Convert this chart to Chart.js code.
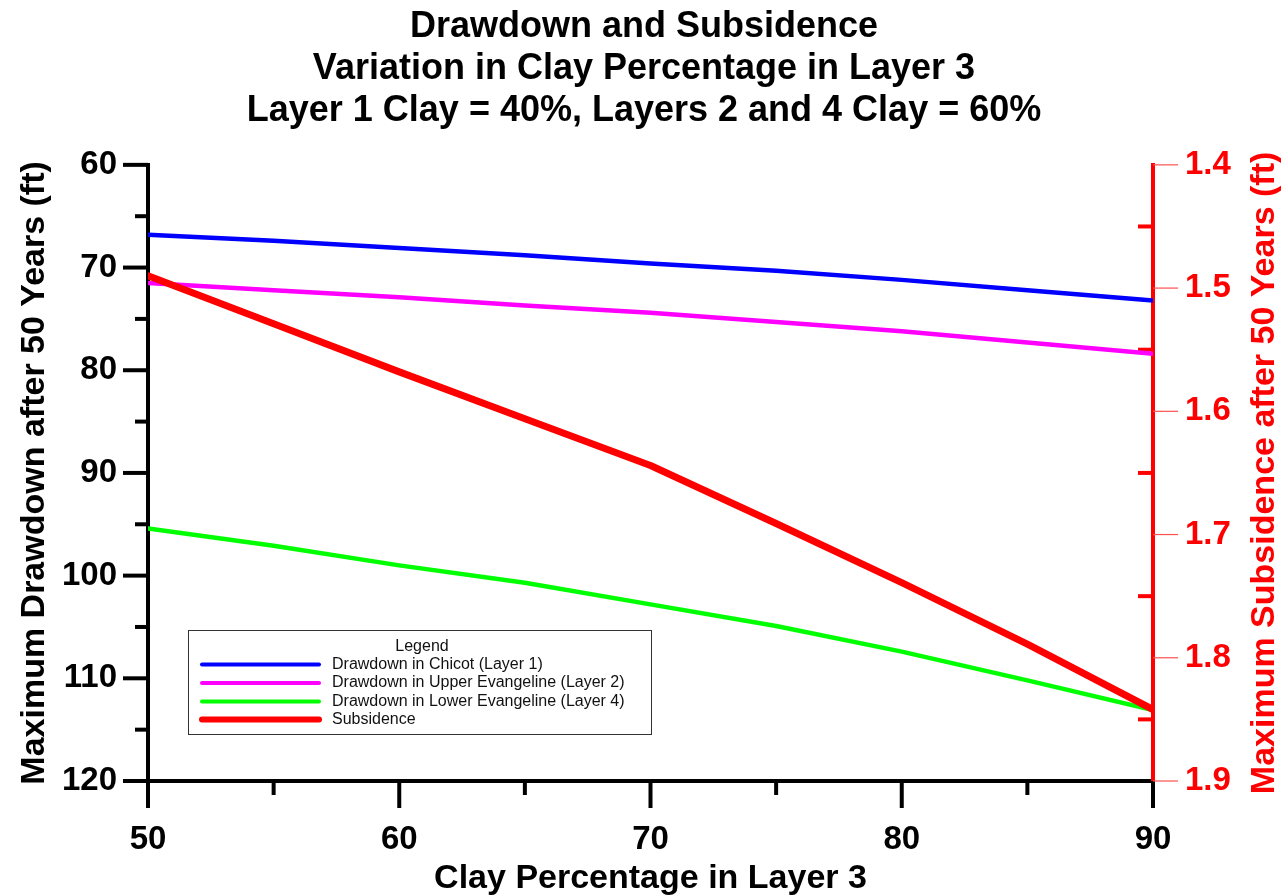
<!DOCTYPE html>
<html>
<head>
<meta charset="utf-8">
<script src="https://cdn.jsdelivr.net/npm/chart.js@4.4.1/dist/chart.umd.min.js"></script>
<style>
  html, body { margin: 0; padding: 0; background: #ffffff; }
  #c { display: block; }
</style>
</head>
<body>
<canvas id="c" width="1288" height="896"></canvas>
<script>
// Clay percentage in layer 3 (x axis)
const clayPct = [50, 55, 60, 65, 70, 75, 80, 85, 90];

// Maximum drawdown after 50 years (ft), left axis
const drawdownChicot = [66.8, 67.4, 68.1, 68.8, 69.6, 70.3, 71.2, 72.2, 73.2];
const drawdownUpperEvangeline = [71.5, 72.2, 72.9, 73.7, 74.4, 75.3, 76.2, 77.3, 78.4];
const drawdownLowerEvangeline = [95.4, 97.1, 99.0, 100.7, 102.8, 104.9, 107.4, 110.2, 113.1];

// Maximum subsidence after 50 years (ft), right axis
const subsidence = [1.490, 1.529, 1.568, 1.606, 1.644, 1.691, 1.739, 1.789, 1.842];

const seriesLabels = [
  'Drawdown in Chicot (Layer 1)',
  'Drawdown in Upper Evangeline (Layer 2)',
  'Drawdown in Lower Evangeline (Layer 4)',
  'Subsidence'
];
const titleLines = [
  'Drawdown and Subsidence',
  'Variation in Clay Percentage in Layer 3',
  'Layer 1 Clay = 40%, Layers 2 and 4 Clay = 60%'
];
const xTitle = 'Clay Percentage in Layer 3';
const yLeftTitle = 'Maximum Drawdown after 50 Years (ft)';
const yRightTitle = 'Maximum Subsidence after 50 Years (ft)';
const legendTitle = 'Legend';

const FONT = "'Liberation Sans', Arial, Helvetica, sans-serif";
const toPoints = (ys) => clayPct.map((x, i) => ({ x: x, y: ys[i] }));

// Axis tick marks: long major ticks, short minor ticks
const axisTicks = {
  id: 'axisTicks',
  beforeDatasetsDraw(chart) {
    const ctx = chart.ctx;
    const { left, right, bottom } = chart.chartArea;
    const sy = chart.scales.y, sx = chart.scales.x, sr = chart.scales.y2;
    ctx.save();
    ctx.lineCap = 'butt';
    // left axis
    ctx.strokeStyle = '#000';
    ctx.lineWidth = 4;
    for (let v = 60; v <= 120; v += 5) {
      const p = sy.getPixelForValue(v);
      const len = (v % 10 === 0) ? 25 : 13;
      ctx.beginPath(); ctx.moveTo(left - len, p); ctx.lineTo(left, p); ctx.stroke();
    }
    // bottom axis
    for (let v = 50; v <= 90; v += 5) {
      const p = sx.getPixelForValue(v);
      const len = (v % 10 === 0) ? 27 : 14;
      ctx.beginPath(); ctx.moveTo(p, bottom); ctx.lineTo(p, bottom + len); ctx.stroke();
    }
    // right axis: thin outward majors, thick inward minors
    for (let i = 0; i <= 10; i++) {
      const v = 1.4 + i * 0.05;
      const p = sr.getPixelForValue(v);
      if (i % 2 === 0) {
        ctx.lineWidth = 1.2;
        ctx.strokeStyle = '#ff5050';
        ctx.beginPath(); ctx.moveTo(right, p); ctx.lineTo(right + 25, p); ctx.stroke();
      } else {
        ctx.lineWidth = 4;
        ctx.strokeStyle = '#ff0000';
        ctx.beginPath(); ctx.moveTo(right - 15, p); ctx.lineTo(right, p); ctx.stroke();
      }
    }
    ctx.restore();
  }
};

// Right axis title reads bottom-to-top, like the left one
const rightTitle = {
  id: 'rightTitle',
  afterDraw(chart) {
    const ctx = chart.ctx;
    const { top, bottom } = chart.chartArea;
    ctx.save();
    ctx.translate(1265, (top + bottom) / 2);
    ctx.rotate(-Math.PI / 2);
    ctx.font = 'bold 34px ' + FONT;
    ctx.fillStyle = '#ff0000';
    ctx.textAlign = 'center';
    ctx.textBaseline = 'middle';
    ctx.fillText(yRightTitle, 0, 0);
    ctx.restore();
  }
};

// Boxed legend inside the plot
const boxLegend = {
  id: 'boxLegend',
  afterDraw(chart) {
    const ctx = chart.ctx;
    const bx = 188.5, by = 630.5, bw = 463, bh = 104;
    ctx.save();
    ctx.fillStyle = '#ffffff';
    ctx.fillRect(bx, by, bw, bh);
    ctx.strokeStyle = '#333333';
    ctx.lineWidth = 1;
    ctx.strokeRect(bx, by, bw, bh);
    ctx.fillStyle = '#111111';
    ctx.font = '16px ' + FONT;
    ctx.textAlign = 'center';
    ctx.textBaseline = 'middle';
    ctx.fillText(legendTitle, 422, 647);
    const rows = [664.5, 683, 701.5, 719.5];
    ctx.textAlign = 'left';
    ctx.lineCap = 'round';
    chart.data.datasets.forEach((ds, i) => {
      const y = rows[i];
      ctx.strokeStyle = ds.borderColor;
      ctx.lineWidth = i === 3 ? 6 : 4;
      ctx.beginPath(); ctx.moveTo(202, y); ctx.lineTo(319, y); ctx.stroke();
      ctx.fillText(ds.label, 332, y);
    });
    ctx.restore();
  }
};

new Chart(document.getElementById('c'), {
  type: 'line',
  data: {
    datasets: [
      { label: seriesLabels[0], data: toPoints(drawdownChicot), borderColor: '#0000ff', borderWidth: 4.5, yAxisID: 'y', order: 3 },
      { label: seriesLabels[1], data: toPoints(drawdownUpperEvangeline), borderColor: '#ff00ff', borderWidth: 4.5, yAxisID: 'y', order: 2 },
      { label: seriesLabels[2], data: toPoints(drawdownLowerEvangeline), borderColor: '#00ff00', borderWidth: 4.5, yAxisID: 'y', order: 1 },
      { label: seriesLabels[3], data: toPoints(subsidence), borderColor: '#ff0000', borderWidth: 7, yAxisID: 'y2', order: 0 }
    ]
  },
  options: {
    responsive: false,
    animation: false,
    devicePixelRatio: 1,
    layout: { padding: 0 },
    elements: {
      point: { radius: 0, hoverRadius: 0 },
      line: { tension: 0, fill: false, borderCapStyle: 'round', borderJoinStyle: 'round' }
    },
    plugins: {
      legend: { display: false },
      tooltip: { enabled: false },
      title: {
        display: true,
        text: titleLines,
        color: '#000',
        font: { family: FONT, size: 36, weight: 'bold', lineHeight: 1.17 },
        padding: { top: 6, bottom: 32.5 }
      }
    },
    scales: {
      x: {
        type: 'linear', min: 50, max: 90,
        ticks: { stepSize: 10, color: '#000', padding: 39, font: { family: FONT, size: 33, weight: 'bold' } },
        grid: { drawOnChartArea: false, drawTicks: false },
        border: { display: true, color: '#000', width: 4 },
        title: { display: true, text: xTitle, color: '#000', padding: 0, font: { family: FONT, size: 34, weight: 'bold', lineHeight: 1.05 } },
        afterFit(s) { s.height = 115; }
      },
      y: {
        type: 'linear', position: 'left', reverse: true, min: 60, max: 120,
        ticks: { stepSize: 10, color: '#000', padding: 31, font: { family: FONT, size: 33, weight: 'bold' } },
        grid: { drawOnChartArea: false, drawTicks: false },
        border: { display: true, color: '#000', width: 4 },
        title: { display: true, text: yLeftTitle, color: '#000', padding: { top: 17, bottom: 0 }, font: { family: FONT, size: 34, weight: 'bold', lineHeight: 1.05 } },
        afterFit(s) { s.width = 148; }
      },
      y2: {
        type: 'linear', position: 'right', reverse: true, min: 1.4, max: 1.9,
        ticks: { stepSize: 0.1, color: '#ff0000', padding: 32, font: { family: FONT, size: 33, weight: 'bold' },
                 callback: (v) => v.toFixed(1) },
        grid: { drawOnChartArea: false, drawTicks: false },
        border: { display: true, color: '#ff0000', width: 4 },
        afterFit(s) { s.width = 135; }
      }
    }
  },
  plugins: [axisTicks, rightTitle, boxLegend]
});
</script>
</body>
</html>
